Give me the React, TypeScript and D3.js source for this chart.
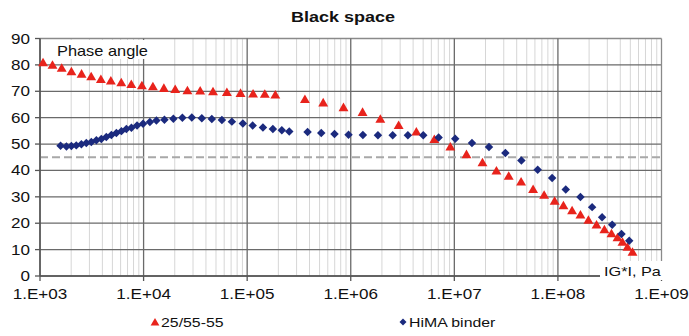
import React from 'react';
import * as d3 from 'd3';

// 25/55-55 bitumen: |G*| (Pa) and phase angle (deg)
const gStar25 = [
  1.07e3, 1.32e3, 1.62e3, 2.01e3, 2.52e3, 3.12e3, 3.87e3, 4.83e3, 6.09e3, 7.61e3,
  9.63e3, 1.23e4, 1.57e4, 2.02e4, 2.65e4, 3.52e4, 4.68e4, 6.37e4, 8.63e4, 1.14e5,
  1.48e5, 1.87e5, 3.61e5, 5.42e5, 8.51e5, 1.3e6, 1.93e6, 2.9e6, 4.3e6, 6.41e6,
  9.15e6, 1.31e7, 1.87e7, 2.55e7, 3.35e7, 4.41e7, 5.76e7, 7.36e7, 9.3e7, 1.13e8,
  1.37e8, 1.65e8, 1.97e8, 2.36e8, 2.81e8, 3.29e8, 3.76e8, 4.2e8, 4.69e8, 5.25e8,
];
const phase25 = [
  81.0, 80.1, 78.9, 77.6, 76.7, 75.7, 74.7, 74.1, 73.4, 72.8,
  72.3, 71.9, 71.3, 70.9, 70.4, 70.3, 70.0, 69.7, 69.4, 69.2,
  69.1, 68.8, 67.1, 65.8, 64.0, 62.2, 59.6, 57.2, 54.8, 51.9,
  49.1, 46.2, 43.1, 40.0, 38.0, 35.8, 33.0, 30.8, 28.5, 26.8,
  24.9, 23.3, 21.3, 19.5, 17.7, 16.2, 14.7, 13.0, 11.1, 9.2,
];

// HiMA binder
const gStarHima = [
  1.58e3, 1.8e3, 2.01e3, 2.24e3, 2.51e3, 2.8e3, 3.13e3, 3.5e3, 3.91e3, 4.37e3,
  4.89e3, 5.46e3, 6.11e3, 6.82e3, 7.63e3, 8.65e3, 9.89e3, 1.15e4, 1.33e4, 1.59e4,
  1.94e4, 2.37e4, 2.92e4, 3.65e4, 4.56e4, 5.7e4, 7.12e4, 9.09e4, 1.13e5, 1.42e5,
  1.77e5, 2.16e5, 2.55e5, 3.83e5, 5.19e5, 6.97e5, 9.52e5, 1.31e6, 1.83e6, 2.54e6,
  3.56e6, 5.01e6, 7.05e6, 1.02e7, 1.48e7, 2.16e7, 3.11e7, 4.44e7, 6.38e7, 8.79e7,
  1.19e8, 1.65e8, 2.14e8, 2.67e8, 3.34e8, 4.11e8, 4.88e8,
];
const phaseHima = [
  49.4, 49.1, 49.3, 49.5, 49.9, 50.4, 50.8, 51.4, 51.9, 52.7,
  53.4, 54.2, 54.9, 55.7, 56.2, 57.0, 57.7, 58.4, 58.9, 59.2,
  59.6, 60.0, 60.1, 59.8, 59.5, 59.1, 58.5, 57.8, 57.0, 56.3,
  55.7, 55.2, 54.8, 54.6, 54.2, 53.8, 53.5, 53.4, 53.3, 53.3,
  53.3, 53.3, 52.5, 52.0, 50.4, 48.9, 46.6, 43.8, 40.3, 37.1,
  32.8, 29.9, 26.1, 22.3, 19.4, 15.9, 13.4,
];

const xTicks = [1e3, 1e4, 1e5, 1e6, 1e7, 1e8, 1e9];
const xTickLabels = ['1.E+03', '1.E+04', '1.E+05', '1.E+06', '1.E+07', '1.E+08', '1.E+09'];
const yTicks = [0, 10, 20, 30, 40, 50, 60, 70, 80, 90];
const refPhase = 45;

const W = 689;
const H = 336;
const FONT = '"Liberation Sans", Arial, sans-serif';
const RED = '#e8231c';
const NAVY = '#1b2a7e';

const triangle = {
  draw(ctx: any, size: number) {
    const h = Math.sqrt(size);
    ctx.moveTo(0, -h * 0.5);
    ctx.lineTo(h * 0.55, h * 0.45);
    ctx.lineTo(-h * 0.55, h * 0.45);
    ctx.closePath();
  },
};
const diamond = {
  draw(ctx: any, size: number) {
    const r = Math.sqrt(size) / 2;
    ctx.moveTo(0, -r);
    ctx.lineTo(r, 0);
    ctx.lineTo(0, r);
    ctx.lineTo(-r, 0);
    ctx.closePath();
  },
};

// text in the source is a bit stretched horizontally
const Txt = ({ x, y, anchor = 'start', size = 14, weight = 'normal', sx = 1.22, children }: any) => (
  <text
    transform={`translate(${x},${y}) scale(${sx},1)`}
    textAnchor={anchor}
    fontSize={size}
    fontWeight={weight}
    fontFamily={FONT}
    fill="#111"
  >
    {children}
  </text>
);

export default function App() {
  const x = d3.scaleLog().domain([1e3, 1e9]).range([40, 661.5]);
  const y = d3.scaleLinear().domain([0, 90]).range([276, 38.5]);

  const minorTicks: number[] = [];
  for (let e = 3; e < 9; e++) {
    for (let m = 2; m <= 9; m++) minorTicks.push(m * Math.pow(10, e));
  }

  const triPath = d3.symbol(triangle as any, 81)();
  const diaPath = d3.symbol(diamond as any, 72)();

  const red = gStar25.map((g, i) => ({ g, p: phase25[i] }));
  const blue = gStarHima.map((g, i) => ({ g, p: phaseHima[i] }));

  return (
    <svg
      width={W}
      height={H}
      style={{ position: 'absolute', left: 0, top: 0, background: '#fff' }}
    >
      <rect width={W} height={H} fill="#fff" />
      <Txt x={343} y={22} anchor="middle" size={15} weight="bold" sx={1.2}>
        Black space
      </Txt>

      {/* minor vertical grid */}
      {minorTicks.map((t) => (
        <line key={`m${t}`} x1={x(t)} x2={x(t)} y1={y(0)} y2={y(90)} stroke="#d6d6d6" strokeWidth={1} />
      ))}
      {/* horizontal grid */}
      {yTicks.map((t) => (
        <line key={`h${t}`} x1={x(1e3)} x2={x(1e9)} y1={y(t)} y2={y(t)} stroke={t === 90 ? '#8a8a8a' : '#6a6a6a'} strokeWidth={1.3} />
      ))}
      {/* major vertical grid */}
      {xTicks.map((t) => (
        <line key={`v${t}`} x1={x(t)} x2={x(t)} y1={y(0)} y2={y(90)} stroke={t === 1e9 ? '#8a8a8a' : '#6a6a6a'} strokeWidth={1.3} />
      ))}
      {/* 45 deg reference */}
      <line x1={x(1e3)} x2={x(1e9)} y1={y(refPhase)} y2={y(refPhase)} stroke="#a8a8a8" strokeWidth={2} strokeDasharray="8,4" />

      {/* axes */}
      <line x1={x(1e3)} x2={x(1e3)} y1={y(0)} y2={y(90)} stroke="#555" strokeWidth={1.5} />
      <line x1={x(1e3)} x2={x(1e9)} y1={y(0)} y2={y(0)} stroke="#555" strokeWidth={1.5} />
      {yTicks.map((t) => (
        <line key={`yt${t}`} x1={x(1e3) - 5} x2={x(1e3)} y1={y(t)} y2={y(t)} stroke="#555" strokeWidth={1.3} />
      ))}
      {xTicks.map((t) => (
        <line key={`xt${t}`} x1={x(t)} x2={x(t)} y1={y(0)} y2={y(0) + 5} stroke="#555" strokeWidth={1.3} />
      ))}

      {/* axis labels */}
      {yTicks.map((t) => (
        <Txt key={`yl${t}`} x={30} y={y(t) + 5} anchor="end" size={14}>
          {String(t)}
        </Txt>
      ))}
      {xTicks.map((t, i) => (
        <Txt key={`xl${t}`} x={x(t)} y={299} anchor="middle" size={14}>
          {xTickLabels[i]}
        </Txt>
      ))}

      <rect x={42} y={40} width={108} height={19} fill="#fff" />
      <Txt x={57} y={56} size={14} sx={1.17}>Phase angle</Txt>

      <rect x={600} y={261} width={70} height={19} fill="#fff" />
      <Txt x={604} y={276} size={13} sx={1.25}>IG*I, Pa</Txt>

      {/* series */}
      <g fill={RED}>
        {red.map((d, i) => (
          <path key={`r${i}`} d={triPath!} transform={`translate(${x(d.g)},${y(d.p)})`} />
        ))}
      </g>
      <g fill={NAVY}>
        {blue.map((d, i) => (
          <path key={`b${i}`} d={diaPath!} transform={`translate(${x(d.g)},${y(d.p)})`} />
        ))}
      </g>

      {/* legend */}
      <path d={d3.symbol(triangle as any, 64)()!} transform="translate(155,322)" fill={RED} />
      <Txt x={161} y={327} size={13} sx={1.22}>25/55-55</Txt>
      <path d={d3.symbol(diamond as any, 49)()!} transform="translate(403,322)" fill={NAVY} />
      <Txt x={409} y={327} size={13} sx={1.22}>HiMA binder</Txt>
    </svg>
  );
}
